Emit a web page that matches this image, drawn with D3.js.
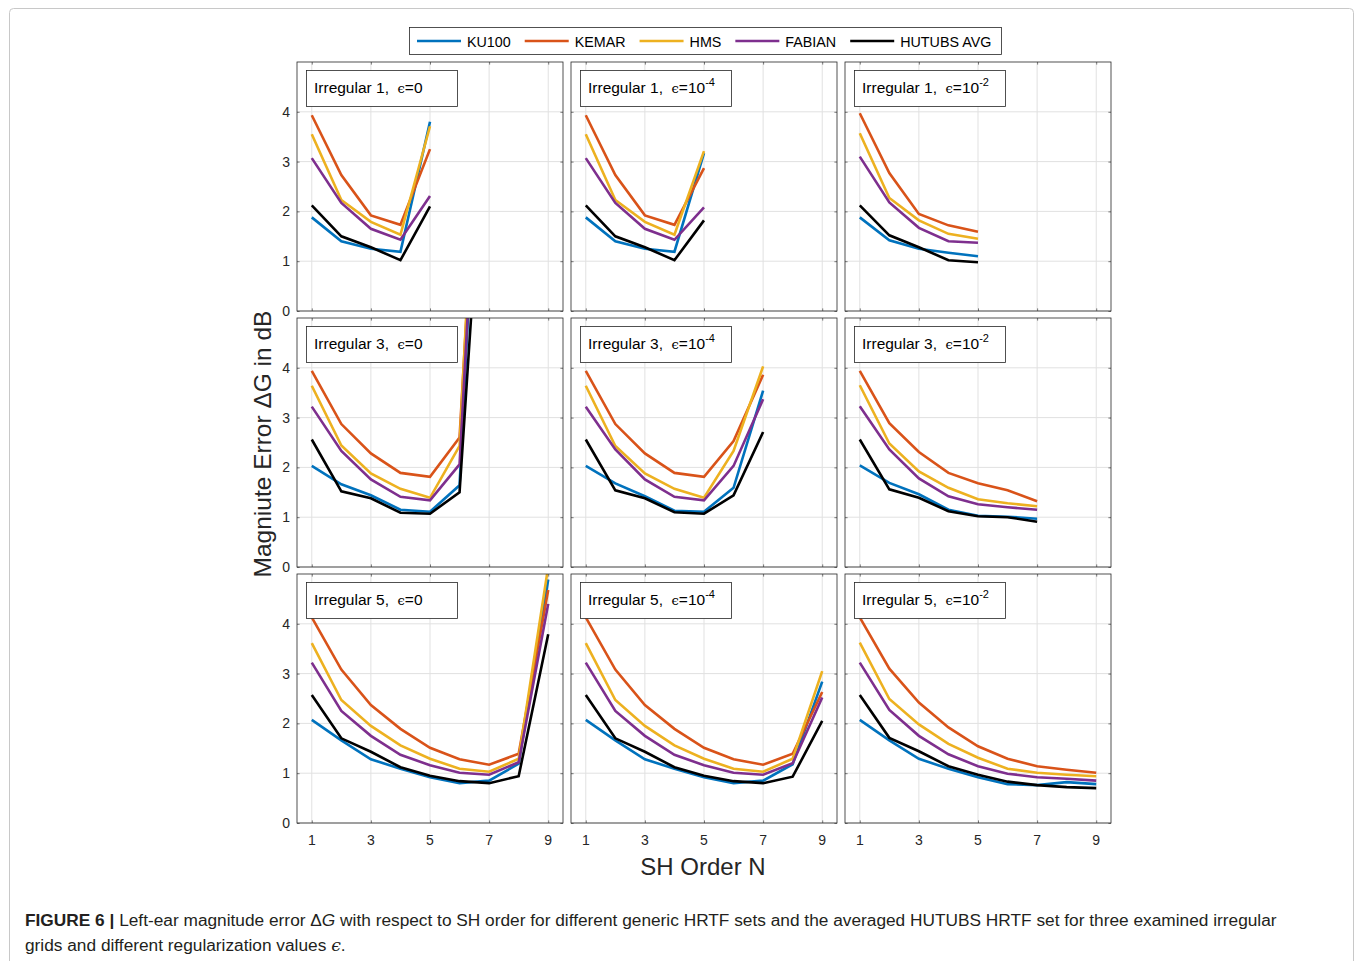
<!DOCTYPE html>
<html><head><meta charset="utf-8">
<script src="https://cdn.jsdelivr.net/npm/d3@7"></script>
<style>body{margin:0;background:#fff} svg{display:block}</style>
</head><body><svg id="c" width="1357" height="961"></svg>
<script>
// ---------- data ----------
const seriesNames = ["KU100", "KEMAR", "HMS", "FABIAN", "HUTUBS AVG"];
const seriesColors = ["#0072BD", "#D95319", "#EDB120", "#7E2F8E", "#000000"];
const gridNames = ["Irregular 1", "Irregular 3", "Irregular 5"];
const epsBase = ["0", "10", "10"];
const epsSup = ["", "-4", "-2"];
const xTicks = [1, 3, 5, 7, 9];
const yTicks = [0, 1, 2, 3, 4];
const orders1 = [1, 2, 3, 4, 5];
const orders3 = [1, 2, 3, 4, 5, 6, 7];
const orders5 = [1, 2, 3, 4, 5, 6, 7, 8, 9];

// rows: KU100, KEMAR, HMS, FABIAN, HUTUBS AVG
const irr1_eps0 = [
  [1.88, 1.40, 1.25, 1.19, 3.80],
  [3.93, 2.73, 1.92, 1.73, 3.25],
  [3.55, 2.23, 1.79, 1.53, 3.71],
  [3.07, 2.17, 1.65, 1.43, 2.31],
  [2.12, 1.50, 1.28, 1.02, 2.10]];
const irr1_eps4 = [
  [1.88, 1.40, 1.25, 1.19, 3.17],
  [3.93, 2.73, 1.92, 1.73, 2.87],
  [3.55, 2.23, 1.79, 1.53, 3.21],
  [3.07, 2.17, 1.65, 1.43, 2.08],
  [2.12, 1.50, 1.28, 1.02, 1.82]];
const irr1_eps2 = [
  [1.88, 1.42, 1.25, 1.17, 1.10],
  [3.97, 2.77, 1.95, 1.72, 1.59],
  [3.57, 2.27, 1.82, 1.55, 1.45],
  [3.10, 2.18, 1.67, 1.40, 1.37],
  [2.12, 1.52, 1.28, 1.02, 0.98]];

const irr3_eps0 = [
  [2.03, 1.66, 1.44, 1.15, 1.11, 1.64, 13.5],
  [3.94, 2.87, 2.28, 1.89, 1.81, 2.60, 13.0],
  [3.64, 2.44, 1.88, 1.57, 1.39, 2.43, 14.0],
  [3.22, 2.33, 1.76, 1.41, 1.34, 2.06, 13.0],
  [2.56, 1.52, 1.38, 1.09, 1.07, 1.50, 10.5]];
const irr3_eps4 = [
  [2.03, 1.68, 1.42, 1.13, 1.11, 1.59, 3.54],
  [3.94, 2.87, 2.28, 1.89, 1.81, 2.53, 3.86],
  [3.64, 2.43, 1.88, 1.57, 1.39, 2.33, 4.03],
  [3.22, 2.36, 1.76, 1.41, 1.34, 2.03, 3.37],
  [2.56, 1.54, 1.38, 1.10, 1.07, 1.44, 2.71]];
const irr3_eps2 = [
  [2.04, 1.69, 1.46, 1.15, 1.03, 1.01, 0.97],
  [3.94, 2.89, 2.31, 1.89, 1.68, 1.54, 1.32],
  [3.65, 2.48, 1.92, 1.59, 1.36, 1.28, 1.22],
  [3.23, 2.36, 1.78, 1.42, 1.26, 1.20, 1.15],
  [2.56, 1.56, 1.39, 1.12, 1.02, 1.00, 0.91]];

const irr5_eps0 = [
  [2.07, 1.66, 1.28, 1.09, 0.92, 0.80, 0.85, 1.19, 4.89],
  [4.13, 3.08, 2.37, 1.89, 1.51, 1.28, 1.17, 1.39, 4.68],
  [3.61, 2.47, 1.95, 1.56, 1.29, 1.09, 1.03, 1.29, 5.15],
  [3.22, 2.25, 1.75, 1.37, 1.16, 1.01, 0.97, 1.22, 4.40],
  [2.57, 1.70, 1.43, 1.12, 0.95, 0.84, 0.80, 0.94, 3.79]];
const irr5_eps4 = [
  [2.07, 1.66, 1.28, 1.09, 0.92, 0.80, 0.85, 1.18, 2.84],
  [4.13, 3.08, 2.37, 1.89, 1.51, 1.28, 1.17, 1.39, 2.63],
  [3.61, 2.47, 1.95, 1.56, 1.29, 1.09, 1.03, 1.29, 3.05],
  [3.22, 2.25, 1.75, 1.37, 1.16, 1.01, 0.97, 1.20, 2.52],
  [2.57, 1.70, 1.43, 1.12, 0.95, 0.84, 0.80, 0.93, 2.05]];
const irr5_eps2 = [
  [2.07, 1.66, 1.29, 1.09, 0.92, 0.78, 0.76, 0.82, 0.78],
  [4.13, 3.10, 2.42, 1.92, 1.54, 1.29, 1.14, 1.07, 1.01],
  [3.62, 2.49, 1.98, 1.59, 1.31, 1.09, 1.01, 0.97, 0.94],
  [3.22, 2.27, 1.75, 1.38, 1.14, 0.99, 0.92, 0.89, 0.85],
  [2.57, 1.71, 1.44, 1.14, 0.97, 0.83, 0.76, 0.72, 0.70]];

const panelData = [
  [irr1_eps0, irr1_eps4, irr1_eps2],
  [irr3_eps0, irr3_eps4, irr3_eps2],
  [irr5_eps0, irr5_eps4, irr5_eps2]];
const panelOrders = [orders1, orders3, orders5];

// ---------- drawing ----------
const svg = d3.select("#c");
const FONT = "'Liberation Sans', Arial, Helvetica, sans-serif";
const colLeft = [297, 571, 845], rowTop = [62, 318, 574];
const W = 266, H = 249;
const axisCol = "#262626";

// outer figure frame
svg.append("rect").attr("x", 9.5).attr("y", 8.5).attr("width", 1344).attr("height", 980)
  .attr("rx", 4).attr("fill", "none").attr("stroke", "#c8c8c8").attr("stroke-width", 1);

const defs = svg.append("defs");

panelData.forEach((row, r) => {
  row.forEach((data, c) => {
    const left = colLeft[c], top = rowTop[r];
    const x = d3.scaleLinear().domain([0.5, 9.5]).range([left, left + W]);
    const y = d3.scaleLinear().domain([0, 5]).range([top + H, top]);
    const g = svg.append("g");
    const clipId = `clip${r}${c}`;
    defs.append("clipPath").attr("id", clipId).append("rect")
      .attr("x", left).attr("y", top).attr("width", W).attr("height", H);

    // grid
    g.append("g").selectAll("line").data(xTicks).join("line")
      .attr("x1", d => x(d)).attr("x2", d => x(d)).attr("y1", top).attr("y2", top + H)
      .attr("stroke", "#e1e1e1").attr("stroke-width", 1);
    g.append("g").selectAll("line").data(yTicks).join("line")
      .attr("x1", left).attr("x2", left + W).attr("y1", d => y(d)).attr("y2", d => y(d))
      .attr("stroke", "#e1e1e1").attr("stroke-width", 1);

    // lines
    const orders = panelOrders[r];
    const line = d3.line().x((d, i) => x(orders[i])).y(d => y(d));
    const lg = g.append("g").attr("clip-path", `url(#${clipId})`);
    data.forEach((vals, s) => {
      lg.append("path").attr("d", line(vals)).attr("fill", "none")
        .attr("stroke", seriesColors[s]).attr("stroke-width", 2.6)
        .attr("stroke-linejoin", "miter").attr("stroke-linecap", "butt");
    });

    // axes with inward ticks (bottom/top/left/right)
    const tl = 2.6;
    const bx = d3.axisBottom(x).tickValues(xTicks).tickSize(-tl).tickFormat("");
    const tx = d3.axisTop(x).tickValues(xTicks).tickSize(-tl).tickFormat("");
    const ly = d3.axisLeft(y).tickValues(yTicks).tickSize(-tl).tickFormat("");
    const ry = d3.axisRight(y).tickValues(yTicks).tickSize(-tl).tickFormat("");
    [[bx, `translate(0,${top + H})`], [tx, `translate(0,${top})`],
     [ly, `translate(${left},0)`], [ry, `translate(${left + W},0)`]].forEach(([ax, tr]) => {
      const a = g.append("g").attr("transform", tr).call(ax);
      a.select(".domain").remove();
      a.selectAll("line").attr("stroke", axisCol).attr("stroke-width", 0.6);
    });
    g.append("rect").attr("x", left).attr("y", top).attr("width", W).attr("height", H)
      .attr("fill", "none").attr("stroke", axisCol).attr("stroke-width", 0.8);

    // tick labels
    if (c === 0) {
      g.append("g").selectAll("text").data(yTicks).join("text")
        .attr("x", left - 7).attr("y", d => y(d) + 5).attr("text-anchor", "end")
        .attr("font-family", FONT).attr("font-size", 14).attr("fill", "#262626")
        .text(d => d);
    }
    if (r === 2) {
      g.append("g").selectAll("text").data(xTicks).join("text")
        .attr("x", d => x(d)).attr("y", top + H + 22).attr("text-anchor", "middle")
        .attr("font-family", FONT).attr("font-size", 14).attr("fill", "#262626")
        .text(d => d);
    }

    // label box
    g.append("rect").attr("x", left + 9.5).attr("y", top + 8.5).attr("width", 151).attr("height", 36)
      .attr("fill", "#fff").attr("stroke", axisCol).attr("stroke-width", 0.8);
    const t = g.append("text").attr("x", left + 17).attr("y", top + 31)
      .attr("font-family", FONT).attr("font-size", 15.5).attr("fill", "#000");
    t.append("tspan").text(gridNames[r] + ",\u00a0\u00a0");
    t.append("tspan").attr("font-family", "'DejaVu Serif', serif").attr("font-size", 13).text("\u03f5");
    t.append("tspan").text("=" + epsBase[c]);
    if (epsSup[c]) {
      t.append("tspan").attr("font-size", 11).attr("dy", -7).text(epsSup[c]);
    }
  });
});

// axis titles
svg.append("text").attr("transform", "translate(271,444) rotate(-90)")
  .attr("text-anchor", "middle").attr("font-family", FONT).attr("font-size", 24.5).attr("fill", "#262626")
  .text("Magniute Error \u0394G in dB");
svg.append("text").attr("x", 703).attr("y", 875).attr("text-anchor", "middle")
  .attr("font-family", FONT).attr("font-size", 24).attr("fill", "#262626")
  .text("SH Order N");

// legend
const leg = svg.append("g");
leg.append("rect").attr("x", 409.5).attr("y", 27.5).attr("width", 592).attr("height", 27)
  .attr("fill", "#fff").attr("stroke", axisCol).attr("stroke-width", 0.8);
let lx = 417;
seriesNames.forEach((n, i) => {
  leg.append("line").attr("x1", lx).attr("x2", lx + 44).attr("y1", 41).attr("y2", 41)
    .attr("stroke", seriesColors[i]).attr("stroke-width", 2.6);
  const tt = leg.append("text").attr("x", lx + 50).attr("y", 46.5)
    .attr("font-family", FONT).attr("font-size", 14.3).attr("fill", "#000").text(n);
  lx += 50 + tt.node().getComputedTextLength() + 14;
});

// caption
const cap = svg.append("text").attr("x", 25).attr("y", 926)
  .attr("font-family", FONT).attr("font-size", 17.3).attr("fill", "#231f20");
cap.append("tspan").attr("font-weight", "bold").text("FIGURE 6 |");
cap.append("tspan").text(" Left-ear magnitude error \u0394");
cap.append("tspan").attr("font-style", "italic").text("G");
cap.append("tspan").text(" with respect to SH order for different generic HRTF sets and the averaged HUTUBS HRTF set for three examined irregular");
const cap2 = svg.append("text").attr("x", 25).attr("y", 951)
  .attr("font-family", FONT).attr("font-size", 17.3).attr("fill", "#231f20");
cap2.append("tspan").text("grids and different regularization values ");
cap2.append("tspan").attr("font-family", "'DejaVu Serif', serif").attr("font-style", "italic").text("\u03f5");
cap2.append("tspan").text(".");
</script>
</body></html>
